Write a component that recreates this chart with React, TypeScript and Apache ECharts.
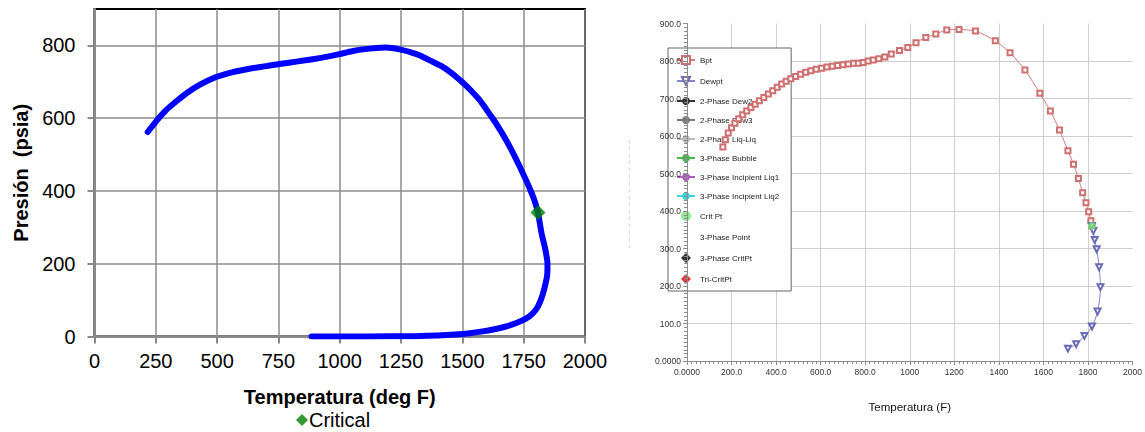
import React, { useEffect, useRef } from "react";
import * as echarts from "echarts";

// ---- Left chart: phase envelope, [temperature °F, pressure psia] ----
const envelopePoints: number[][] = [
  [217, 562], [252, 592], [292, 622], [335, 647], [374, 668], [430, 692],
  [496, 713], [560, 726], [632, 736], [700, 743], [754, 749], [830, 756],
  [890, 762], [950, 769], [999, 776], [1050, 784], [1094, 789], [1150, 793],
  [1189, 794], [1244, 789], [1290, 781], [1325, 773], [1370, 758], [1420, 741],
  [1460, 722], [1498, 700], [1535, 676], [1570, 650], [1600, 622], [1624, 599],
  [1660, 561], [1692, 523], [1720, 486], [1747, 448], [1772, 411], [1793, 376],
  [1808, 341], [1823, 283], [1838, 240], [1847, 200], [1846, 170], [1839, 145],
  [1825, 110], [1807, 81], [1785, 62], [1759, 49], [1720, 37], [1678, 27.5],
  [1630, 20], [1582, 14], [1530, 9], [1469, 5.5], [1400, 3], [1308, 1],
  [1200, 0.5], [1050, 0], [885, 0],
];
const criticalPoint: number[][] = [[1808, 341]];
const leftYTicks = [0, 200, 400, 600, 800];

// ---- Right chart: bubble point / dew point curves, [temperature F, pressure] ----
const bptPoints: number[][] = [
  [161, 571], [172, 590], [185, 608], [200, 622], [215, 634], [232, 646],
  [250, 657], [268, 667], [287, 676], [306, 685], [325, 694], [345, 703],
  [365, 712], [385, 721], [405, 730], [425, 739], [445, 746], [466, 753],
  [488, 759], [510, 765], [533, 770], [556, 774], [580, 778], [604, 781],
  [628, 784], [652, 786], [676, 788], [700, 790], [724, 792], [748, 794],
  [769, 794], [791, 796], [813, 800], [836, 803], [861, 806], [888, 811],
  [917, 819], [954, 828], [991, 836], [1028, 849], [1072, 863], [1117, 872],
  [1166, 883], [1221, 884], [1295, 880], [1384, 854], [1450, 822], [1517, 776],
  [1584, 714], [1631, 667], [1672, 616], [1710, 561], [1735, 525], [1757, 487],
  [1776, 449], [1791, 422], [1803, 398], [1813, 374], [1818, 360],
];
const dewptPoints: number[][] = [
  [1818, 360], [1824, 347], [1830, 323], [1839, 298], [1850, 250], [1856, 197],
  [1843, 132], [1818, 92], [1784, 67], [1747, 45], [1710, 33],
];
const critPtPoints: number[][] = [[1818, 360]];

const DIAMOND_ICON = "path://M0,-1L1,0L0,1L-1,0Z";
const legendNames = [
  "Bpt", "Dewpt", "2-Phase Dew2", "2-Phase Dew3", "2-Phase Liq-Liq",
  "3-Phase Bubble", "3-Phase Incipient Liq1", "3-Phase Incipient Liq2",
  "Crit Pt", "3-Phase Point", "3-Phase CritPt", "Tri-CritPt",
];
const legendIcons: Record<string, string> = {
  "Crit Pt": "circle",
  "3-Phase CritPt": DIAMOND_ICON,
  "Tri-CritPt": DIAMOND_ICON,
};

const SANS = "'Liberation Sans', Arial, sans-serif";

function buildLeftOption() {
  return {
    animation: false,
    grid: {
      left: 94.5, top: 9, width: 490.5, height: 327.5,
      show: true, borderColor: "#000", borderWidth: 2, backgroundColor: "transparent",
    },
    legend: {
      data: [{ name: "Critical", icon: "diamond" }],
      left: 291, top: 405, itemWidth: 12, itemHeight: 12, padding: 5,
      textStyle: { fontSize: 20, color: "#000", fontFamily: SANS, padding: [0, 0, 0, -4] },
    },
    xAxis: {
      type: "value", min: 0, max: 2000, interval: 250,
      name: "Temperatura (deg F)", nameLocation: "middle", nameGap: 50,
      nameTextStyle: { fontSize: 20, fontWeight: "bold", color: "#000", fontFamily: SANS },
      axisLine: { show: true, lineStyle: { color: "#8a8a8a", width: 2 } },
      axisTick: { show: true, length: 7, lineStyle: { color: "#8a8a8a", width: 2 } },
      axisLabel: {
        fontSize: 20, color: "#000", margin: 14, fontFamily: SANS,
        formatter: (v: number) => String(v),
      },
      splitLine: { show: true, lineStyle: { color: "#8c8c8c", width: 1.5 } },
    },
    yAxis: {
      type: "value", min: 0, max: 900, interval: 200,
      name: "Presión  (psia)", nameLocation: "middle", nameGap: 64,
      nameTextStyle: { fontSize: 20, fontWeight: "bold", color: "#000", fontFamily: SANS },
      axisLine: { show: true, lineStyle: { color: "#8a8a8a", width: 2 } },
      axisTick: { show: true, length: 7, lineStyle: { color: "#8a8a8a", width: 2 }, customValues: leftYTicks },
      axisLabel: {
        fontSize: 20, color: "#000", margin: 19, fontFamily: SANS, customValues: leftYTicks,
        formatter: (v: number) => String(v),
      },
      splitLine: { show: true, lineStyle: { color: "#8c8c8c", width: 1.5 } },
    },
    series: [
      {
        name: "Envelope", type: "line", data: envelopePoints, smooth: 0.2,
        showSymbol: false, lineStyle: { color: "#0000ff", width: 6, cap: "round", join: "round" },
        itemStyle: { color: "#0000ff" }, z: 3,
      },
      {
        name: "Critical", type: "scatter", data: criticalPoint,
        symbol: "diamond", symbolSize: 15, itemStyle: { color: "#008000" }, z: 4,
      },
    ],
  };
}

function buildRightOption() {
  const axisColor = "#8c8c8c";
  const labelStyle = { fontSize: 8.5, color: "#333", fontFamily: SANS };
  const emptyLine = (name: string, color: string, symbol: string) => ({
    name, type: "line", data: [] as number[][], symbol, symbolSize: 4,
    lineStyle: { color, width: 1 }, itemStyle: { color }, z: 6,
  });
  const emptyDot = (name: string, color: string, symbol: string) => ({
    name, type: "scatter", data: [] as number[][], symbol, symbolSize: 8,
    itemStyle: { color }, z: 6,
  });
  return {
    animation: false,
    grid: { left: 67, top: 23.5, width: 450, height: 337.5 },
    legend: {
      orient: "vertical", left: 48, top: 48,
      data: legendNames.map((name) => (legendIcons[name] ? { name, icon: legendIcons[name] } : name)),
      itemWidth: 18, itemHeight: 10, itemGap: 11, padding: [7, 12, 7, 8],
      backgroundColor: "#fff", borderColor: "#666", borderWidth: 1, z: 4,
      textStyle: { fontSize: 8, color: "#222", fontFamily: SANS },
    },
    xAxis: [
      {
        type: "value", min: 0, max: 2000, interval: 200, position: "bottom",
        axisLine: { show: false }, axisTick: { show: false }, axisLabel: { show: false },
        splitLine: { show: true, showMaxLine: false, lineStyle: { color: "#cfcfcf", width: 1 } },
        z: 0,
      },
      {
        type: "value", min: 0, max: 2000, interval: 200, position: "bottom",
        name: "Temperatura (F)", nameLocation: "middle", nameGap: 40,
        nameTextStyle: { fontSize: 11.5, color: "#111", fontFamily: SANS },
        axisLine: { show: true, lineStyle: { color: axisColor, width: 1 } },
        axisTick: { show: true, length: 4, lineStyle: { color: axisColor } },
        minorTick: { show: true, splitNumber: 10, length: 3, lineStyle: { color: axisColor } },
        axisLabel: {
          ...labelStyle, margin: 6,
          formatter: (v: number) => (v === 0 ? "0.0000" : v < 1000 ? v.toFixed(1) : String(v)),
        },
        splitLine: { show: false }, z: 10,
      },
    ],
    yAxis: [
      {
        type: "value", min: 0, max: 900, interval: 100, position: "left",
        axisLine: { show: false }, axisTick: { show: false }, axisLabel: { show: false },
        splitLine: { show: true, showMaxLine: false, lineStyle: { color: "#cfcfcf", width: 1 } },
        z: 0,
      },
      {
        type: "value", min: 0, max: 900, interval: 100, position: "left",
        axisLine: { show: true, lineStyle: { color: axisColor, width: 1 } },
        axisTick: { show: true, length: 4, lineStyle: { color: axisColor } },
        minorTick: { show: true, splitNumber: 10, length: 3, lineStyle: { color: axisColor } },
        axisLabel: {
          ...labelStyle, margin: 6,
          formatter: (v: number) => (v === 0 ? "0.0000" : v.toFixed(1)),
        },
        splitLine: { show: false }, z: 10,
      },
    ],
    graphic: [
      {
        type: "line", shape: { x1: 9.5, y1: 140, x2: 9.5, y2: 250 },
        style: { stroke: "#d8d8d8", lineWidth: 1, lineDash: [3, 4] }, silent: true,
      },
    ],
    series: [
      {
        name: "Bpt", type: "line", data: bptPoints, smooth: 0.2,
        symbol: "emptyRect", symbolSize: 5,
        lineStyle: { color: "#d07a7a", width: 1 }, itemStyle: { color: "#cf6f6f", borderWidth: 1 }, z: 6,
      },
      {
        name: "Dewpt", type: "line", data: dewptPoints, smooth: 0.3,
        symbol: "emptyTriangle", symbolRotate: 180, symbolSize: 6,
        lineStyle: { color: "#8484c8", width: 1 }, itemStyle: { color: "#6a6ab8", borderWidth: 1 }, z: 6,
      },
      emptyLine("2-Phase Dew2", "#333333", "circle"),
      emptyLine("2-Phase Dew3", "#777777", "circle"),
      emptyLine("2-Phase Liq-Liq", "#bbbbbb", "none"),
      emptyLine("3-Phase Bubble", "#4cb84c", "none"),
      emptyLine("3-Phase Incipient Liq1", "#b05cc0", "circle"),
      emptyLine("3-Phase Incipient Liq2", "#3fd4dc", "circle"),
      {
        name: "Crit Pt", type: "scatter", data: critPtPoints, symbol: "circle", symbolSize: 8,
        itemStyle: { color: "#74e674" }, z: 7,
      },
      emptyDot("3-Phase Point", "rgba(255,255,255,0)", "circle"),
      emptyDot("3-Phase CritPt", "#000000", "diamond"),
      emptyDot("Tri-CritPt", "#e00000", "diamond"),
    ],
  };
}

export default function App() {
  const leftRef = useRef<HTMLDivElement>(null);
  const rightRef = useRef<HTMLDivElement>(null);

  useEffect(() => {
    if (!leftRef.current || !rightRef.current) return;
    const left = echarts.init(leftRef.current, undefined, { renderer: "svg" });
    const right = echarts.init(rightRef.current, undefined, { renderer: "svg" });
    left.setOption(buildLeftOption() as any);
    right.setOption(buildRightOption() as any);
    return () => {
      left.dispose();
      right.dispose();
    };
  }, []);

  return (
    <div style={{ position: "fixed", left: 0, top: 0, width: 1145, height: 432, background: "#fff" }}>
      <div ref={leftRef} style={{ position: "absolute", left: 0, top: 0, width: 620, height: 432 }} />
      <div
        ref={rightRef}
        style={{ position: "absolute", left: 620, top: 0, width: 525, height: 432, filter: "blur(0.5px)" }}
      />
    </div>
  );
}
